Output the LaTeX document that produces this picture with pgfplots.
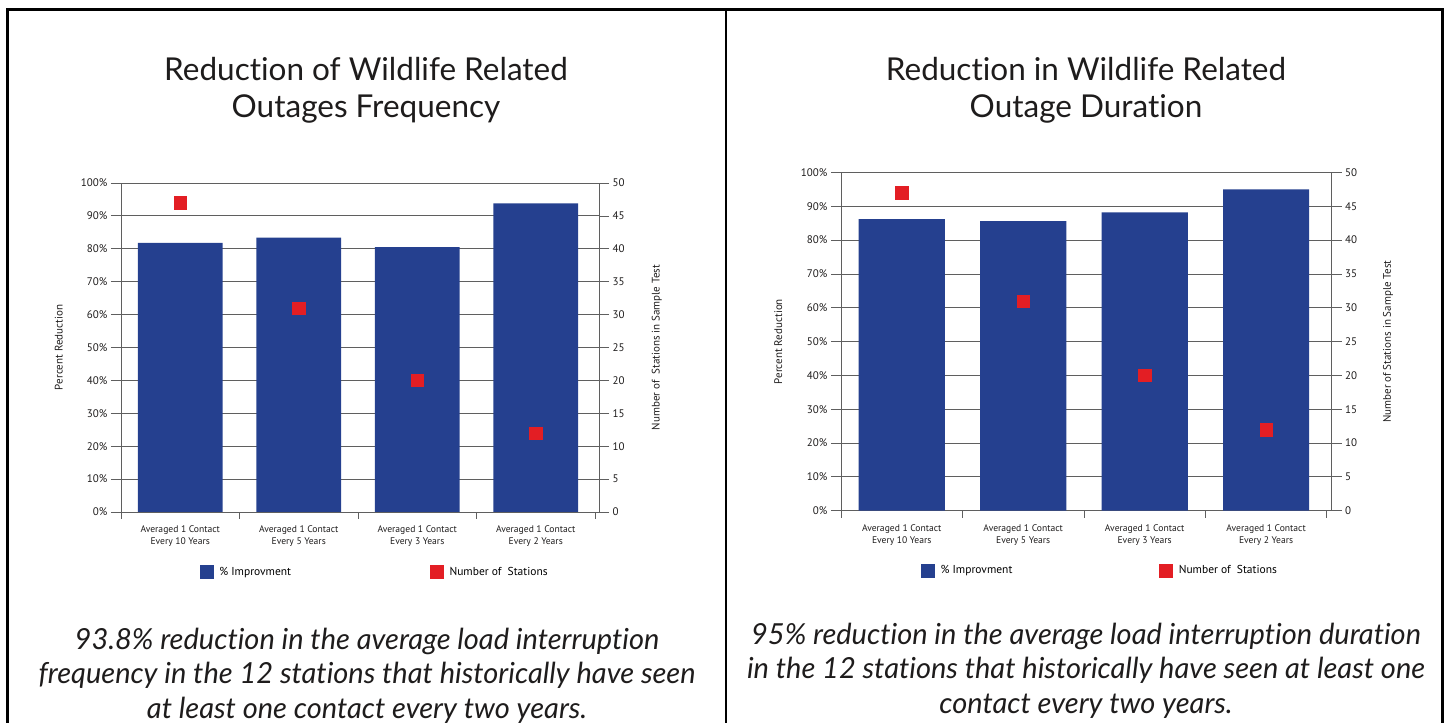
\documentclass[border=0pt]{standalone}
\usepackage{fontspec}
\setmainfont{PT Sans}
\newfontfamily\titlefont{Lato}[Ligatures=NoCommon]
\usepackage{pgfplots}
\pgfplotsset{compat=1.18}
\definecolor{barblue}{RGB}{37,64,143}
\definecolor{mkred}{RGB}{227,30,36}
\definecolor{axgray}{RGB}{95,95,95}
\definecolor{txt}{RGB}{30,28,28}
\pgfplotsset{
  base/.style={
    scale only axis, anchor=south west,
    xmin=-0.5,
    /pgf/number format/assume math mode=true,
    tick align=outside,
    major tick length=10pt,
    every tick label/.append style={font=\fontsize{11}{13}\selectfont, text=txt},
    every axis label/.append style={font=\fontsize{11}{13}\selectfont, text=txt},
    axis line style={draw=axgray, line width=0.8pt},
    every tick/.append style={draw=axgray, line width=0.8pt},
  },
  leftax/.style={
    base,
    axis x line*=bottom, axis y line*=left,
    ymin=0, ymax=100, ytick={0,10,...,100},
    yticklabel={\pgfmathprintnumber{\tick}\%},
    ymajorgrids, grid style={draw=axgray, line width=0.8pt},
    xtick={0,1,2,3},
    xticklabels={{Averaged 1 Contact\\Every 10 Years},{Averaged 1 Contact\\Every 5 Years},{Averaged 1 Contact\\Every 3 Years},{Averaged 1 Contact\\Every 2 Years}},
    xticklabel style={align=center, font=\fontsize{9.6}{12.5}\selectfont},
    major x tick style={draw=none},
    minor xtick={-0.5,0.5,1.5,2.5,3.5},
    minor tick length=7pt,
    minor x tick style={draw=axgray, line width=0.8pt},
    ylabel={Percent Reduction},
  },
  rightax/.style={
    base,
    axis x line=none, axis y line*=right,
    ymin=0, ymax=50, ytick={0,5,...,50},
    legend columns=2,
    legend style={draw=none, fill=none, anchor=center, font=\fontsize{11.5}{13}\selectfont,
      /tikz/every odd column/.append style={column sep=4pt}},
  },
}
\begin{document}
\begin{tikzpicture}[x=1pt,y=1pt]
\useasboundingbox (0,0) rectangle (1449,723);
\draw[line width=3pt] (7,-5) -- (7,713) -- (1442,713) -- (1442,-5);
\draw[line width=2.5pt] (726,-5) -- (726,713);

% titles
\node[font=\titlefont\fontsize{31.5}{37}\selectfont, align=center, text=txt] at (366,633) {Reduction of Wildlife Related\\Outages Frequency};
\node[font=\titlefont\fontsize{31.5}{37}\selectfont, align=center, text=txt] at (1086,633) {Reduction in Wildlife Related\\Outage Duration};

% captions
\node[font=\titlefont\itshape\fontsize{29}{34.5}\selectfont, align=center, text=txt] at (367,47.5) {93.8\% reduction in the average load interruption\\frequency in the 12 stations that historically have seen\\at least one contact every two years.};
\node[font=\titlefont\itshape\fontsize{29}{34.5}\selectfont, align=center, text=txt] at (1086,52.5) {95\% reduction in the average load interruption duration\\in the 12 stations that historically have seen at least one\\contact every two years.};

% ---------- left chart ----------
\begin{axis}[leftax, at={(121pt,211pt)}, width=478pt, height=329pt, xmax=3.534,
  ylabel style={at={(axis description cs:-0.13,0.5)}, anchor=center}]
\addplot[ybar, bar width=0.715, fill=barblue, draw=none] coordinates {(0,81.8) (1,83.4) (2,80.5) (3,93.8)};
\end{axis}
\begin{axis}[rightax, at={(121pt,211pt)}, width=478pt, height=329pt, xmax=3.534,
  ylabel={Number of\ \ Stations in Sample Test},
  ylabel style={at={(axis description cs:1.121,0.5)}, anchor=center},
  legend style={at={(axis description cs:0.531,-0.182)},
    /tikz/every even column/.append style={column sep=137pt}}]
\addlegendimage{legend image code/.code={\fill[barblue] (0pt,-6.5pt) rectangle (13pt,6.5pt);}}
\addlegendentry{\% Improvment}
\addplot[only marks, mark=square*, mark size=6.2pt, mark options={fill=mkred, draw=mkred},
  legend image code/.code={\fill[mkred] (0pt,-6.5pt) rectangle (13pt,6.5pt);}] coordinates {(0,47) (1,31) (2,20) (3,12)};
\addlegendentry{Number of\ \ Stations}
\end{axis}

% ---------- right chart ----------
\begin{axis}[leftax, at={(841pt,212.3pt)}, width=490.7pt, height=338.2pt, xmax=3.54,
  ylabel style={at={(axis description cs:-0.128,0.5)}, anchor=center}]
\addplot[ybar, bar width=0.71, fill=barblue, draw=none] coordinates {(0,86.2) (1,85.6) (2,88.2) (3,95.0)};
\end{axis}
\begin{axis}[rightax, at={(841pt,212.3pt)}, width=490.7pt, height=338.2pt, xmax=3.54,
  ylabel={Number of Stations in Sample Test},
  ylabel style={at={(axis description cs:1.115,0.5)}, anchor=center},
  legend style={at={(axis description cs:0.528,-0.177)},
    /tikz/every even column/.append style={column sep=145pt}}]
\addlegendimage{legend image code/.code={\fill[barblue] (0pt,-6.5pt) rectangle (13pt,6.5pt);}}
\addlegendentry{\% Improvment}
\addplot[only marks, mark=square*, mark size=6.2pt, mark options={fill=mkred, draw=mkred},
  legend image code/.code={\fill[mkred] (0pt,-6.5pt) rectangle (13pt,6.5pt);}] coordinates {(0,47) (1,31) (2,20) (3,12)};
\addlegendentry{Number of\ \ Stations}
\end{axis}
\end{tikzpicture}
\end{document}
